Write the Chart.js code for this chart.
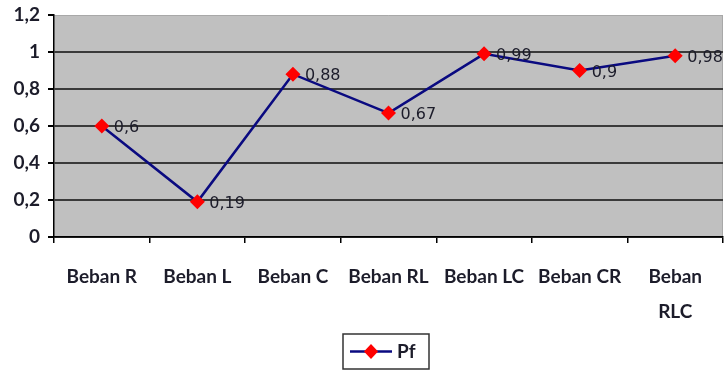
<!DOCTYPE html>
<html><head><meta charset="utf-8">
<script src="https://cdn.jsdelivr.net/npm/chart.js@4"></script>
<style>html,body{margin:0;padding:0;background:#fff}#wrap{width:724px;height:372px}</style>
</head><body><div id="wrap"><canvas id="c" width="724" height="372"></canvas></div>
<script>
const categories = ['Beban R', 'Beban L', 'Beban C', 'Beban RL', 'Beban LC', 'Beban CR', 'Beban RLC'];
const tickLabels = ['Beban R', 'Beban L', 'Beban C', 'Beban RL', 'Beban LC', 'Beban CR', ['Beban', 'RLC']];
const pfValues = [0.6, 0.19, 0.88, 0.67, 0.99, 0.9, 0.98];
const seriesName = 'Pf';
const yTicks = [0, 0.2, 0.4, 0.6, 0.8, 1, 1.2];

const fmt = v => String(Math.round(v * 100) / 100).replace('.', ',');
const LINE = '#0a0a80', MARK = '#ff0000', TXT = '#1c1c2a';

const plotBg = {
  id: 'plotBg',
  beforeDraw(chart) {
    const a = chart.chartArea, ctx = chart.ctx;
    ctx.save(); ctx.fillStyle = '#c0c0c0';
    ctx.fillRect(a.left, a.top, a.right - a.left, a.bottom - a.top);
    ctx.strokeStyle = '#a8a8a8'; ctx.lineWidth = 1;
    ctx.beginPath(); ctx.moveTo(a.left, a.top + 0.5); ctx.lineTo(a.right, a.top + 0.5);
    ctx.moveTo(a.right - 0.5, a.top); ctx.lineTo(a.right - 0.5, a.bottom); ctx.stroke();
    ctx.restore();
  }
};

const dataLabels = {
  id: 'dataLabels',
  afterDatasetsDraw(chart) {
    const ctx = chart.ctx, meta = chart.getDatasetMeta(0);
    ctx.save();
    ctx.font = '16px "DejaVu Sans"'; ctx.fillStyle = TXT;
    ctx.textAlign = 'left'; ctx.textBaseline = 'middle';
    meta.data.forEach((pt, i) => ctx.fillText(fmt(pfValues[i]), pt.x + 12, pt.y + 2));
    ctx.restore();
  }
};

const boxLegend = {
  id: 'boxLegend',
  afterDraw(chart) {
    const ctx = chart.ctx;
    const bx = 343, by = 334, bw = 86, bh = 35;
    ctx.save();
    ctx.fillStyle = '#fff'; ctx.fillRect(bx, by, bw, bh);
    ctx.strokeStyle = '#333'; ctx.lineWidth = 1.5; ctx.strokeRect(bx, by, bw, bh);
    const cy = by + bh / 2;
    ctx.strokeStyle = LINE; ctx.lineWidth = 2.5;
    ctx.beginPath(); ctx.moveTo(350, cy); ctx.lineTo(392, cy); ctx.stroke();
    ctx.fillStyle = MARK; ctx.beginPath();
    ctx.moveTo(371, cy - 7.5); ctx.lineTo(378, cy); ctx.lineTo(371, cy + 7.5); ctx.lineTo(364, cy); ctx.closePath(); ctx.fill();
    ctx.fillStyle = TXT; ctx.font = 'bold 19px Lato'; ctx.textBaseline = 'middle'; ctx.textAlign = 'left';
    ctx.fillText(seriesName, 397, cy);
    ctx.restore();
  }
};

new Chart(document.getElementById('c'), {
  type: 'line',
  data: {
    labels: tickLabels,
    datasets: [{
      label: seriesName,
      data: pfValues,
      borderColor: LINE,
      borderWidth: 2.5,
      tension: 0,
      pointStyle: 'rectRot',
      pointRadius: 7.5,
      pointHoverRadius: 7.5,
      pointBackgroundColor: MARK,
      pointBorderColor: MARK,
      pointBorderWidth: 0
    }]
  },
  options: {
    responsive: false,
    animation: false,
    devicePixelRatio: 1,
    layout: { autoPadding: false, padding: { top: 15, right: 1, left: 0, bottom: 0 } },
    plugins: { legend: { display: false }, tooltip: { enabled: false } },
    scales: {
      x: {
        type: 'category',
        offset: true,
        grid: { offset: true, drawOnChartArea: false, drawTicks: true, tickLength: 6, color: '#000', lineWidth: 1.5 },
        border: { color: '#000', width: 1.5 },
        ticks: {
          autoSkip: false, maxRotation: 0, minRotation: 0, padding: 16,
          color: TXT, font: { family: 'Lato', size: 19, weight: 'bold', lineHeight: '35px' }
        },
        afterFit(s) { s.height = 135; s.paddingLeft = 0; s.paddingRight = 0; }
      },
      y: {
        min: 0, max: 1.2,
        afterBuildTicks(s) { s.ticks = yTicks.map(v => ({ value: v })); },
        grid: {
          color: c => (c.tick && c.tick.value > 1.1) ? 'rgba(0,0,0,0)' : '#3a3a3a',
          tickColor: '#000', lineWidth: 2, tickLength: 6, drawTicks: true
        },
        border: { color: '#000', width: 1.5 },
        ticks: {
          padding: 8, color: TXT,
          font: { family: 'Lato', size: 19, weight: 'bold' },
          callback: v => fmt(v)
        },
        afterFit(s) { s.width = 54; s.paddingTop = 0; s.paddingBottom = 0; }
      }
    }
  },
  plugins: [plotBg, dataLabels, boxLegend]
});
</script></body></html>
